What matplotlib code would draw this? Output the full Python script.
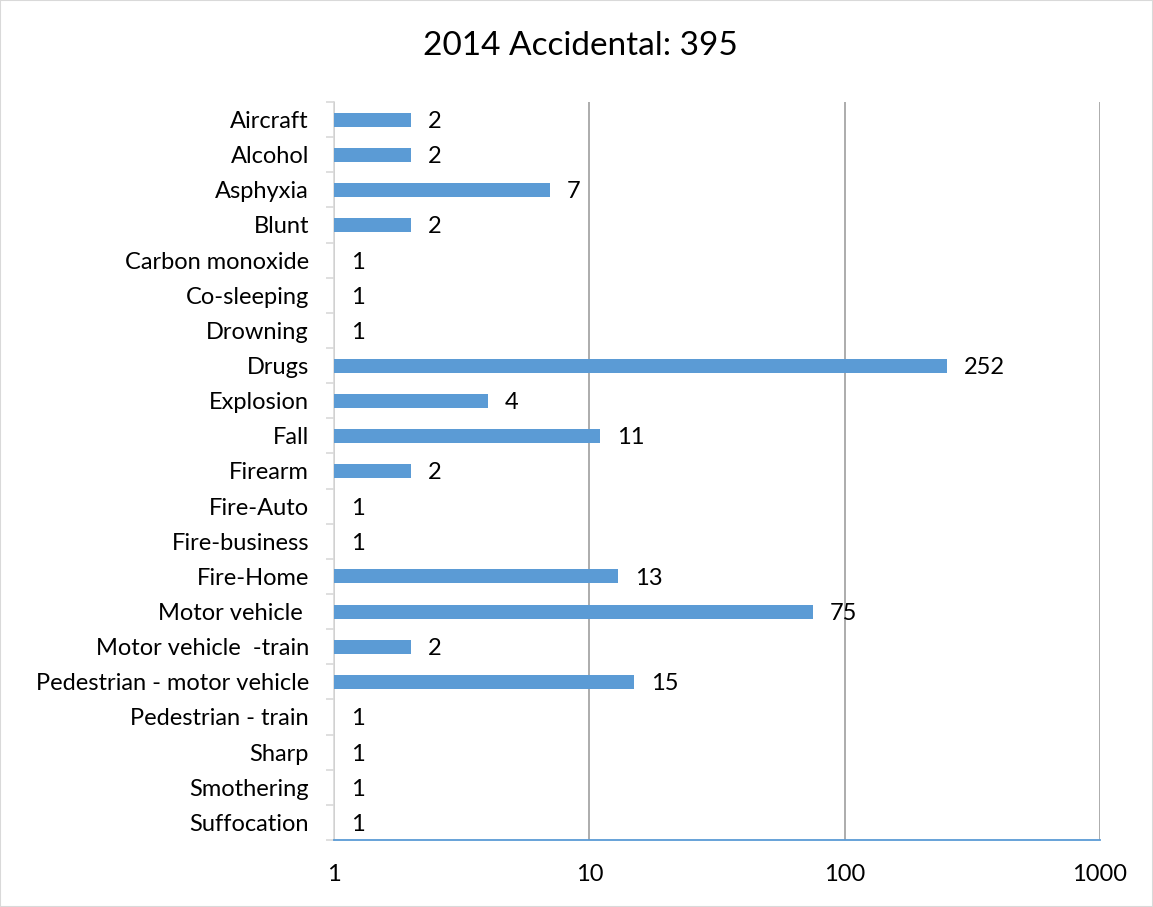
import matplotlib
matplotlib.use("Agg")
import matplotlib.pyplot as plt
import numpy as np
from matplotlib.patches import Rectangle

plt.rcParams['font.family'] = ['Lato', 'DejaVu Sans']

categories = ["Aircraft", "Alcohol", "Asphyxia", "Blunt", "Carbon monoxide", "Co-sleeping",
              "Drowning", "Drugs", "Explosion", "Fall", "Firearm", "Fire-Auto", "Fire-business",
              "Fire-Home", "Motor vehicle ", "Motor vehicle  -train", "Pedestrian - motor vehicle",
              "Pedestrian - train", "Sharp", "Smothering", "Suffocation"]
values = [2, 2, 7, 2, 1, 1, 1, 252, 4, 11, 2, 1, 1, 13, 75, 2, 15, 1, 1, 1, 1]
x_ticks = [1, 10, 100, 1000]
x_ticklabels = ["1", "10", "100", "1000"]
title = "2014 Accidental: 395"

W, H = 1153, 907
fig = plt.figure(figsize=(W/100, H/100), dpi=100)
fig.patches.append(Rectangle((0, 0), 1, 1, transform=fig.transFigure, fill=False,
                             edgecolor='#D9D9D9', linewidth=1.5))
ax = fig.add_axes([334/W, 1-840/H, (1100-334)/W, (840-102)/H])

n = len(categories)
ypos = np.arange(n)
ax.barh(ypos, [v - 1 for v in values], left=1, height=0.4, color='#5B9BD5', zorder=3)
ax.set_xscale('log')
ax.set_xlim(1, 1000)
ax.set_ylim(n - 0.5, -0.5)

ax.set_yticks(ypos)
ax.set_yticklabels(categories, fontsize=17)
ax.set_yticks(np.arange(n + 1) - 0.5, minor=True)
ax.tick_params(axis='y', which='major', length=0, pad=18)
ax.tick_params(axis='y', which='minor', length=6, color='#D9D9D9', width=1.2)

ax.set_xticks(x_ticks)
ax.set_xticklabels(x_ticklabels, fontsize=17)
ax.xaxis.set_minor_locator(matplotlib.ticker.NullLocator())
ax.tick_params(axis='x', which='major', length=0, pad=17)

ax.grid(axis='x', color='#A6A6A6', linewidth=1.3, zorder=0)
for s in ['top', 'right']:
    ax.spines[s].set_visible(False)
ax.spines['left'].set_color('#D9D9D9')
ax.spines['left'].set_linewidth(1.2)
ax.spines['bottom'].set_color('#5B9BD5')
ax.spines['bottom'].set_linewidth(1.3)

for y, v in zip(ypos, values):
    ax.annotate(str(v), xy=(v, y), xytext=(12, 0), textcoords='offset points',
                va='center_baseline', ha='left', fontsize=17)

fig.text(580/W, 1-46/H, title, ha='center', va='center', fontsize=24)

fig.savefig("out.png", dpi=100)
